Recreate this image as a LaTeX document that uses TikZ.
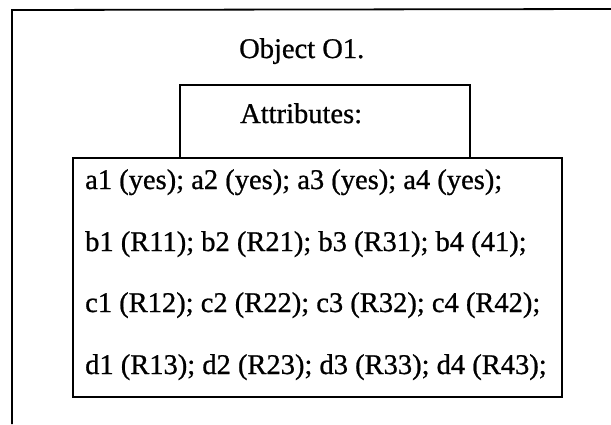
\documentclass[tikz,border=0pt]{standalone}
\usepackage{fontspec}
\setmainfont{Liberation Serif}
\newfontfamily\printfont[FakeBold=0.8]{Liberation Serif}
\begin{document}
\begin{tikzpicture}[x=1pt, y=-1pt,
  frame/.style={line width=1.8pt, black},
  label/.style={inner sep=0pt, anchor=base west, font=\printfont\fontsize{28.5}{34}\selectfont}]
\useasboundingbox (0,0) rectangle (611,424);
% outer frame (only top and left edges are shown)
\coordinate (corner) at (12,10);
\coordinate (topend) at (611,9);
\coordinate (leftend) at (12,424);
\draw[frame] (topend) -- (corner) -- (leftend);
% title
\node[label] (title) at (239,58) {Object O1.};
% attribute header box
\draw[frame] (180,158) -- (180,85) -- (470,85) -- (470,158);
\node[label] (attr) at (240,123) {Attributes:};
% attribute list box
\draw[frame] (73,158) rectangle (562,397);
\node[label] (la) at (85,189) {a1 (yes); a2 (yes); a3 (yes); a4 (yes);};
\node[label] (lb) at (85,251) {b1 (R11); b2 (R21); b3 (R31); b4 (41);};
\node[label] (lc) at (85,312) {c1 (R12); c2 (R22); c3 (R32); c4 (R42);};
\node[label] (ld) at (85,374) {d1 (R13); d2 (R23); d3 (R33); d4 (R43);};
\end{tikzpicture}
\end{document}
